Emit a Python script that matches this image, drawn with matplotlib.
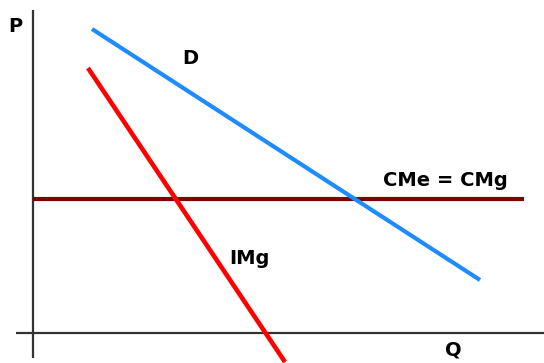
import matplotlib
matplotlib.use("Agg")
import matplotlib.pyplot as plt

# coordinates measured from the origin of the P/Q axes (Q to the right, P up)
demand_q = [59, 447]
demand_p = [304, 53]
img_q = [55, 252]
img_p = [265, -29]
cme_p = 134
cme_q = [0, 491]

axis_q = [-17, 511]
axis_p = [-25, 323]

labels = {
    "P": (-18, 307),
    "D": (157, 275),
    "CMe = CMg": (412, 152),
    "IMg": (216, 75),
    "Q": (420, -17),
}

plt.rcParams["font.family"] = ["DejaVu Sans"]

fig = plt.figure(figsize=(5.44, 3.63), dpi=100)
ax = fig.add_axes([0, 0, 1, 1])
ax.set_xlim(-33, 511)
ax.set_ylim(-30, 333)
ax.axis("off")

# ejes
ax.plot([0, 0], axis_p, color="#333333", lw=1.6, solid_capstyle="butt")
ax.plot(axis_q, [0, 0], color="#333333", lw=1.6, solid_capstyle="butt")

# curvas
ax.plot(cme_q, [cme_p, cme_p], color="#800000", lw=3, solid_capstyle="butt")
ax.plot(demand_q, demand_p, color="#1E8CFF", lw=3, solid_capstyle="butt")
ax.plot(img_q, img_p, color="#FF0000", lw=3.3, solid_capstyle="butt")

for txt, (x, y) in labels.items():
    ax.text(x, y, txt, fontsize=14, fontweight="bold", color="black",
            ha="center", va="center")

fig.savefig("out.png", dpi=100)
